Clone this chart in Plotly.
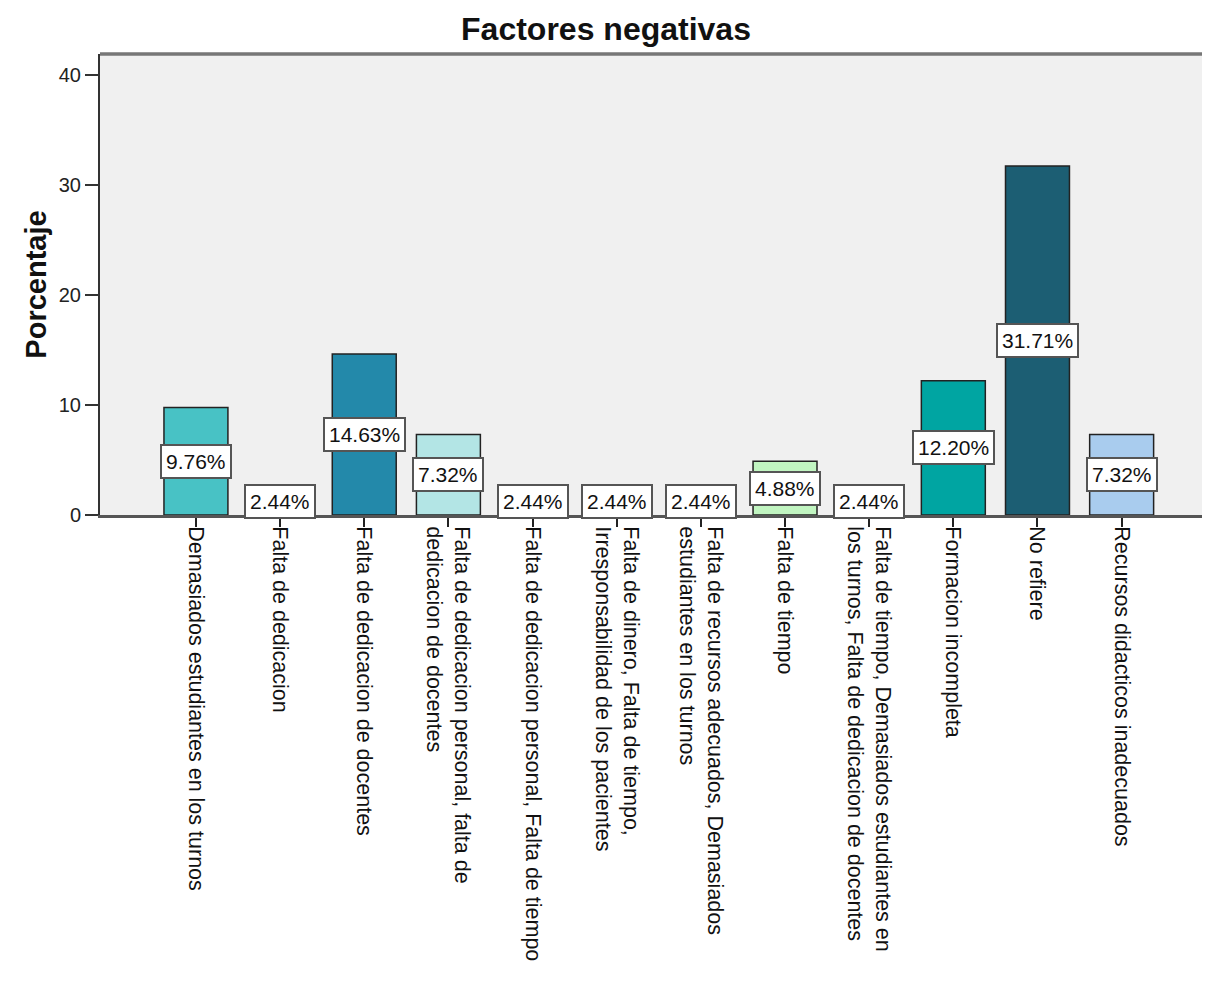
import plotly.graph_objects as go

categories = [
    "Demasiados estudiantes en los turnos",
    "Falta de dedicacion",
    "Falta de dedicacion de docentes",
    "Falta de dedicacion personal, falta de<br>dedicacion de docentes",
    "Falta de dedicacion personal, Falta de tiempo",
    "Falta de dinero, Falta de tiempo,<br>Irresponsabilidad de los pacientes",
    "Falta de recursos adecuados, Demasiados<br>estudiantes en los turnos",
    "Falta de tiempo",
    "Falta de tiempo, Demasiados estudiantes en<br>los turnos, Falta de dedicacion de docentes",
    "Formacion incompleta",
    "No refiere",
    "Recursos didacticos inadecuados",
]
percentages = [9.76, 2.44, 14.63, 7.32, 2.44, 2.44, 2.44, 4.88, 2.44, 12.20, 31.71, 7.32]
bar_colors = ["#48C2C5", "#7FD1D1", "#2389AA", "#B3E5E5", "#62B1A8", "#97D7C8",
              "#2F7E98", "#C1F5C1", "#41A0C4", "#00A5A2", "#1C5E73", "#A9CCEE"]
y_ticks = [0, 10, 20, 30, 40]

FONT = "Liberation Sans, Arial, sans-serif"

# page has an 8px body margin; figure is sized so it ends at the window edge
W, H = 1202, 976
ML, MT, MB = 92, 46, 469
PLOT_H = H - MT - MB

fig = go.Figure()
fig.add_trace(go.Bar(
    x=list(range(len(categories))),
    y=percentages,
    marker=dict(color=bar_colors, line=dict(color="#222222", width=1.5)),
    width=0.76,
    hoverinfo="skip",
))

for i, v in enumerate(percentages):
    fig.add_annotation(
        x=i, y=v / 2, xref="x", yref="y",
        text=f"{v:.2f}%", showarrow=False,
        font=dict(family=FONT, size=21, color="#111111"),
        bgcolor="white", bordercolor="#555555", borderwidth=2, borderpad=4,
    )

# x-axis title (cut off at the bottom edge in the reference)
fig.add_annotation(
    x=0.5, y=-(974 - (H - MB)) / PLOT_H, xref="paper", yref="paper",
    xanchor="center", yanchor="top", showarrow=False,
    text="<b>Factores negativas</b>",
    font=dict(family=FONT, size=32, color="#111111"),
)

fig.update_layout(
    width=W, height=H,
    margin=dict(l=ML, r=0, t=MT, b=MB, pad=0),
    paper_bgcolor="white",
    plot_bgcolor="#F0F0F0",
    showlegend=False,
    bargap=0.24,
    title=dict(
        text="<b>Factores negativas</b>",
        x=598 / W, xref="container", xanchor="center",
        y=1 - 21 / H, yref="container", yanchor="middle",
        font=dict(family=FONT, size=32, color="#111111"),
    ),
    xaxis=dict(
        tickmode="array",
        tickvals=list(range(len(categories))),
        ticktext=categories,
        tickangle=90,
        range=[-1.14, 12.05],
        ticks="outside", ticklen=9, tickwidth=1.5, tickcolor="#222222",
        ticklabelstandoff=-5,
        tickfont=dict(family=FONT, size=21.5, color="#111111"),
        showgrid=False, zeroline=False,
        showline=True, linecolor="#555555", linewidth=3,
        automargin=False,
        fixedrange=True,
    ),
    yaxis=dict(
        range=[0, 41.9],
        tickvals=y_ticks,
        ticks="outside", ticklen=13, tickwidth=1.5, tickcolor="#333333",
        tickfont=dict(family=FONT, size=20, color="#222222"),
        showgrid=False, zeroline=False,
        showline=True, linecolor="#333333", linewidth=2,
        title=dict(text="<b>Porcentaje</b>", standoff=4,
                   font=dict(family=FONT, size=29, color="#111111")),
        automargin=False,
        fixedrange=True,
    ),
    shapes=[dict(type="line", xref="paper", yref="paper", x0=0, x1=1, y0=1, y1=1,
                 line=dict(color="#777777", width=3.5))],
)

fig.write_html("out.html")
